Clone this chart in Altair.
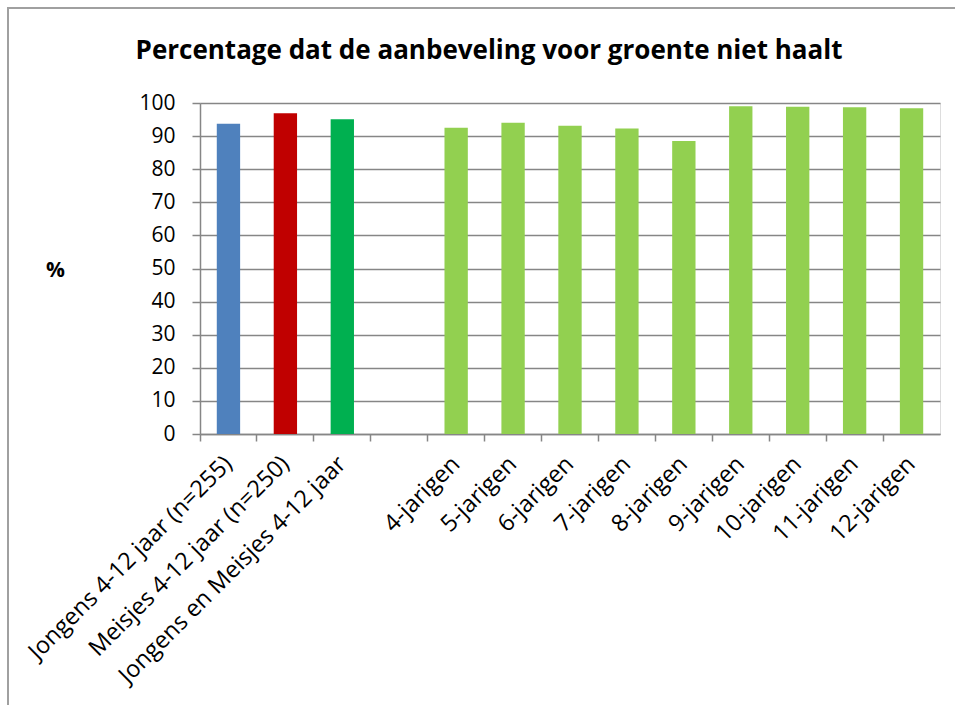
import altair as alt
import pandas as pd

title_text = "Percentage dat de aanbeveling voor groente niet haalt"
categories = [
    "Jongens 4-12 jaar (n=255)",
    "Meisjes 4-12 jaar (n=250)",
    "Jongens en Meisjes 4-12 jaar",
    " ",
    "4-jarigen", "5-jarigen", "6-jarigen", "7-jarigen", "8-jarigen",
    "9-jarigen", "10-jarigen", "11-jarigen", "12-jarigen",
]
values = [93.7, 96.9, 95.1, None, 92.5, 94.0, 93.1, 92.3, 88.5, 99.0, 98.9, 98.7, 98.4]
groups = ["jongens", "meisjes", "totaal", "leeg"] + ["leeftijd"] * 9
group_domain = ["jongens", "meisjes", "totaal", "leeftijd"]
group_colors = ["#4F81BD", "#C00000", "#00B050", "#92D050"]
y_ticks = [0, 10, 20, 30, 40, 50, 60, 70, 80, 90, 100]

df = pd.DataFrame({"cat": categories, "val": values, "grp": groups})

FONT = "Open Sans"

bars = alt.Chart(df).mark_bar(width=alt.RelativeBandSize(0.41)).encode(
    x=alt.X("cat:N", sort=categories, title=None,
            scale=alt.Scale(paddingInner=0, paddingOuter=0),
            axis=alt.Axis(labelAngle=-45, labelAlign="right", labelBaseline="middle",
                          labelPadding=19, labelFontSize=23.5, labelFont=FONT,
                          labelColor="#000000", bandPosition=0, tickSize=7,
                          tickColor="#868686", domainColor="#868686", tickWidth=1.5,
                          domainWidth=1.5, grid=False, labelLimit=400)),
    y=alt.Y("val:Q", title="%",
            scale=alt.Scale(domain=[0, 100], nice=False),
            axis=alt.Axis(values=y_ticks, labelFontSize=21, labelFont=FONT,
                          labelColor="#000000", tickSize=8, tickColor="#868686",
                          domainColor="#868686", tickWidth=1.5, domainWidth=1.5,
                          gridColor="#868686", gridWidth=1.5, labelPadding=17,
                          titleAngle=0, titleX=-145, titleY=167, titleAlign="center",
                          titleBaseline="middle", titleFont=FONT, titleFontSize=21,
                          titleFontWeight="bold", titleColor="#000000")),
    color=alt.Color("grp:N", scale=alt.Scale(domain=group_domain, range=group_colors),
                    legend=None),
)

frame = alt.Chart(df).mark_rect(fill=None, stroke="#A0A0A0", strokeWidth=1.5).encode(
    x=alt.value(-192), x2=alt.value(900), y=alt.value(-95), y2=alt.value(800)
)

title = alt.Chart(pd.DataFrame({"t": [title_text]})).mark_text(
    font=FONT, fontSize=26, fontWeight="bold", color="#000000",
    align="center", baseline="alphabetic"
).encode(text="t:N", x=alt.value(289), y=alt.value(-44))

chart = alt.layer(frame, bars, title).properties(
    width=740,
    height=331,
    autosize="none",
    padding={"left": 200, "top": 103, "right": 15, "bottom": 271},
).configure_view(stroke=None).configure(background="white")

chart.save("out.html", embed_options={"renderer": "svg", "actions": False})
